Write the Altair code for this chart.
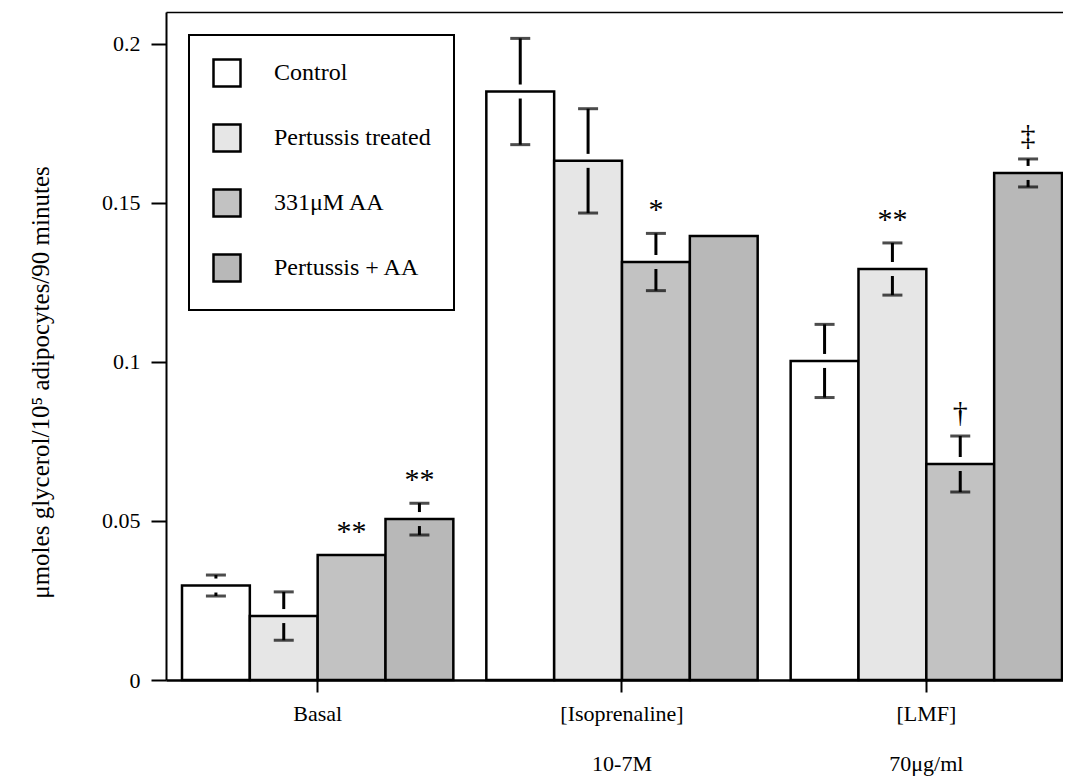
import altair as alt
import pandas as pd

groups = ["Basal", "[Isoprenaline]|10-7M", "[LMF]|70μg/ml"]
treatments = ["Control", "Pertussis treated", "331μM AA", "Pertussis + AA"]
fills = ["#ffffff", "#e6e6e6", "#c2c2c2", "#b8b8b8"]

basal_mean = [0.0297, 0.0201, 0.0393, 0.0506]
basal_sem = [0.0033, 0.0076, None, 0.0050]
basal_sig = ["", "", "**", "**"]

iso_mean = [0.1850, 0.1632, 0.1314, 0.1396]
iso_sem = [0.0167, 0.0164, 0.0090, None]
iso_sig = ["", "", "*", ""]

lmf_mean = [0.1003, 0.1292, 0.0679, 0.1594]
lmf_sem = [0.0115, 0.0082, 0.0088, 0.0044]
lmf_sig = ["", "**", "†", "‡"]

rows = []
for g, means, sems, sigs in [
    (groups[0], basal_mean, basal_sem, basal_sig),
    (groups[1], iso_mean, iso_sem, iso_sig),
    (groups[2], lmf_mean, lmf_sem, lmf_sig),
]:
    for t, m, s, sg in zip(treatments, means, sems, sigs):
        rows.append({"group": g, "treatment": t, "mean": m, "sem": s, "sig": sg})
df = pd.DataFrame(rows)

FONT = "Liberation Serif"

xscale = alt.Scale(domain=groups, paddingInner=0.1084, paddingOuter=0.02793, align=0.941)
xoff = alt.XOffset("treatment:N", sort=treatments,
                   scale=alt.Scale(domain=treatments, paddingInner=0, paddingOuter=0))
yscale = alt.Scale(domain=[0, 0.21], nice=False, zero=True)

base = alt.Chart(df).transform_calculate(
    upper="isValid(datum.sem) ? datum.mean + datum.sem : datum.mean",
    lower="isValid(datum.sem) ? datum.mean - datum.sem : datum.mean",
)

bars = base.mark_bar(stroke="black", strokeWidth=2.5).encode(
    x=alt.X("group:N", sort=groups, scale=xscale, title=None,
            axis=alt.Axis(orient="bottom", labelExpr="split(datum.label, '|')",
                          labelLineHeight=50, labelFontSize=22, labelFont=FONT,
                          labelColor="black", labelAngle=0, labelBaseline="top",
                          labelPadding=11, tickSize=12, tickWidth=2, tickColor="black",
                          domainColor="black", domainWidth=2.5, grid=False)),
    xOffset=xoff,
    y=alt.Y("mean:Q", scale=yscale,
            title="μmoles glycerol/10⁵ adipocytes/90 minutes",
            axis=alt.Axis(values=[0, 0.05, 0.1, 0.15, 0.2], format=".2~f",
                          labelFontSize=22, labelFont=FONT, labelColor="black",
                          labelPadding=11, tickSize=15, tickWidth=2, tickColor="black",
                          domainColor="black", domainWidth=2, grid=False,
                          titleFont=FONT, titleFontSize=25, titleFontWeight="normal",
                          titleColor="black", titleX=-126, titleY=370,
                          titleBaseline="middle", titleAlign="center", titleAngle=-90)),
    color=alt.Color("treatment:N", sort=treatments,
                    scale=alt.Scale(domain=treatments, range=fills),
                    legend=alt.Legend(title=None, orient="none", legendX=23, legendY=23,
                                      symbolType="square", symbolSize=729,
                                      symbolStrokeColor="black", symbolStrokeWidth=2.5,
                                      labelFont=FONT, labelFontSize=24, labelColor="black",
                                      labelOffset=32, rowPadding=27, padding=23,
                                      strokeColor="black")),
)

err = base.transform_filter("isValid(datum.sem)")
xe = alt.X("group:N", sort=groups, scale=xscale, axis=None)
up_stem = err.mark_rule(color="black", strokeWidth=3, yOffset=-7).encode(
    x=xe, xOffset=xoff,
    y=alt.Y("mean:Q", scale=yscale, axis=None), y2="upper:Q")
lo_stem = err.mark_rule(color="black", strokeWidth=3, y2Offset=7).encode(
    x=xe, xOffset=xoff,
    y=alt.Y("lower:Q", scale=yscale, axis=None), y2="mean:Q")
up_cap = err.mark_tick(color="black", orient="horizontal", size=20, thickness=3).encode(
    x=xe, xOffset=xoff, y=alt.Y("upper:Q", scale=yscale, axis=None))
lo_cap = err.mark_tick(color="black", orient="horizontal", size=20, thickness=3).encode(
    x=xe, xOffset=xoff, y=alt.Y("lower:Q", scale=yscale, axis=None))

sig = base.transform_filter("datum.sig != ''").mark_text(
    font=FONT, fontSize=30, color="black", baseline="alphabetic", dy=-14
).encode(
    x=alt.X("group:N", sort=groups, scale=xscale, title=None,
            axis=alt.Axis(orient="top", labels=False, ticks=False, domain=True,
                          domainColor="black", domainWidth=1.5, grid=False)),
    xOffset=xoff,
    y=alt.Y("upper:Q", scale=yscale, axis=None),
    text="sig:N",
)

chart = alt.layer(bars, up_stem, lo_stem, up_cap, lo_cap, sig).resolve_axis(
    x="independent", y="independent"
).properties(
    width=897, height=668,
    autosize=alt.AutoSizeParams(type="none"),
    padding={"left": 158, "top": 4, "right": 0, "bottom": 97},
).configure_view(stroke=None).configure(background="white").configure_legend(
    strokeWidth=2
)

chart.save("out.html", embed_options={"renderer": "svg", "actions": False})
